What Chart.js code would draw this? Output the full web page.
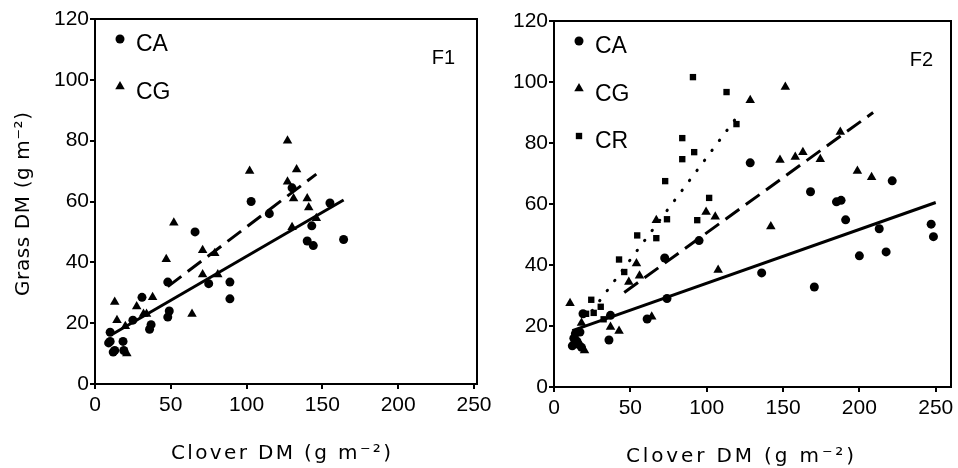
<!DOCTYPE html>
<html>
<head>
<meta charset="utf-8">
<script src="https://cdn.jsdelivr.net/npm/chart.js@4.4.1/dist/chart.umd.min.js"></script>
<style>
  html, body { margin: 0; padding: 0; background: #fff; }
  #wrap { position: relative; width: 958px; height: 468px; overflow: hidden; }
  .panel { position: absolute; top: 0; height: 468px; }
</style>
</head>
<body>
<div id="wrap">
  <div class="panel" style="left:0;width:500px"><canvas id="chartF1"></canvas></div>
  <div class="panel" style="left:480px;width:478px"><canvas id="chartF2"></canvas></div>
</div>
<script>
// clover DM (x) vs grass DM (y), g m-2
var f1CA = [[9,13.5],[10,17],[10,14],[12,10.5],[13,11],[18.5,14],[19,11],[25,21],[31,28.5],[36,18],
            [37,19.5],[48,22],[49,24],[48,33.5],[66,50],[75,33],[89,33.5],[89,28],[103,60],[115,56],
            [130,64.5],[140,47],[144,45.5],[143,52],[155,59.5],[164,47.5]];
var f1CG = [[13,27],[14.5,21],[20,19],[21,10],[27.5,25.5],[32,23],[34,23],[38,28.5],[47,41],[52,53],
            [64,23],[71,44],[71,36],[79,43],[81,36],[102,70],[127,80],[127,66.5],[131,61],[130,51.5],
            [133,70.5],[140,61],[141,58],[146,54.5]];
var f2CA = [[12,13.5],[13,16],[14,17.5],[15,15],[16,14],[18,13],[17,18],[19,24],[36,15.4],[37,23.5],
            [61,22.3],[72.5,42.3],[74,29],[95,48],[128.5,73.5],[136,37.4],[168,64],[170.5,32.8],[185,60.7],
            [188,61.2],[191,54.8],[200,43],[213,51.9],[217.5,44.3],[221.5,67.6],[247,53.4],[248.5,49.3]];
var f2CG = [[10.5,27.5],[18,21],[20,12],[37,19.7],[42.6,18.4],[49,34.4],[54,40.5],[56,36.5],[64,23],
            [67,54.7],[99.6,57.4],[105.6,55.8],[107.5,38.4],[128.5,94],[142,52.6],[148,74.4],[151.5,98.4],
            [158,75.4],[163,77],[174.4,74.7],[187.5,83.6],[198.7,70.8],[208,68.8]];
var f2CR = [[21,24],[24.4,28.6],[26,24.3],[30.6,26.3],[32.5,22.2],[42.6,41.8],[46,37.7],[54.5,49.7],
            [67,48.8],[72.8,67.5],[74,55],[84,81.6],[84,74.7],[91,101.6],[91.8,77],[93.8,54.7],[101.6,62],
            [113,96.7],[119.5,86.2]];

// regression line end points
var f1LineCA = [[12,16.5],[164,60.5]];
var f1LineCG = [[48,32],[146,69]];
var f2LineCA = [[12,18.5],[250,60.5]];
var f2LineCG = [[46,31],[209,90]];
var f2LineCR = [[25,25],[122,90]];

var xTicks = [0, 50, 100, 150, 200, 250];
var yTicks = [0, 20, 40, 60, 80, 100, 120];
var xTitle = 'Clover DM (g m\u207B\u00B2)';
var yTitle = 'Grass DM (g m\u207B\u00B2)';

var FONT = "'Liberation Sans', Arial, sans-serif";
var TITLE_FONT = "'DejaVu Sans', sans-serif";

function pts(arr) {
    return arr.map(function (p) { return { x: p[0], y: p[1] }; });
}

function scatterSet(label, arr, style, r) {
    return {
        type: 'scatter', label: label, data: pts(arr),
        pointStyle: style, pointRadius: r, pointHoverRadius: r,
        backgroundColor: '#000', borderColor: '#000', borderWidth: 0
    };
}

function lineSet(arr, dash, cap) {
    return {
        type: 'line', label: '', data: pts(arr), showLine: true, fill: false,
        borderColor: '#000', borderWidth: 3, borderDash: dash, borderCapStyle: cap || 'butt',
        pointRadius: 0, pointHoverRadius: 0
    };
}

function spacedText(ctx, text, cx, y, width) {
    ctx.letterSpacing = '0px';
    var w0 = ctx.measureText(text).width;
    var n = Array.from(text).length;
    var ls = Math.max(0, (width - w0) / (n - 1));
    ctx.letterSpacing = ls + 'px';
    ctx.textAlign = 'left';
    ctx.fillText(text, cx - width / 2, y);
    ctx.letterSpacing = '0px';
}

// frame, legend, panel tag and axis titles
var panelDecor = {
    id: 'panelDecor',
    afterDraw: function (chart, args, o) {
        var ctx = chart.ctx, a = chart.chartArea;
        ctx.save();
        ctx.strokeStyle = '#000';
        ctx.lineWidth = 2;
        ctx.strokeRect(a.left, a.top, a.right - a.left, a.bottom - a.top);

        ctx.fillStyle = '#000';
        ctx.textBaseline = 'alphabetic';

        // legend
        var row = 0;
        chart.data.datasets.forEach(function (ds) {
            if (ds.type !== 'scatter') return;
            var y = a.top + 24 + row * 47.5;
            Chart.helpers.drawPoint(ctx, { pointStyle: ds.pointStyle, radius: ds.pointRadius, rotation: 0, borderWidth: 0 },
                a.left + 25, y - 4);
            ctx.font = '23px ' + FONT;
            ctx.textAlign = 'left';
            ctx.fillText(ds.label, a.left + 41, y + 8);
            row++;
        });

        // panel tag
        ctx.font = '20px ' + FONT;
        ctx.textAlign = 'right';
        ctx.fillText(o.tag, a.right - o.tagDx, a.top + 45);

        // axis titles
        ctx.font = '20px ' + TITLE_FONT;
        spacedText(ctx, xTitle, a.left + 186, a.bottom + 75, o.xTitleW);
        if (o.yTitle) {
            ctx.save();
            ctx.translate(29, 204);
            ctx.rotate(-Math.PI / 2);
            spacedText(ctx, yTitle, 0, 0, 184);
            ctx.restore();
        }
        ctx.restore();
    }
};

function makeOptions(xMax, yWidth, xHeight, pad, decor) {
    var tickFont = { family: FONT, size: 21 };
    return {
        responsive: true,
        maintainAspectRatio: false,
        animation: false,
        events: [],
        layout: { padding: pad },
        plugins: { legend: { display: false }, tooltip: { enabled: false }, panelDecor: decor },
        scales: {
            x: {
                type: 'linear', min: 0, max: xMax,
                afterBuildTicks: function (s) { s.ticks = xTicks.map(function (v) { return { value: v }; }); },
                afterFit: function (s) { s.height = xHeight; },
                ticks: { color: '#000', font: tickFont, padding: 4, maxRotation: 0 },
                grid: { drawOnChartArea: false, tickLength: 5, color: '#000', lineWidth: 2 },
                border: { color: '#000', width: 2 }
            },
            y: {
                type: 'linear', min: 0, max: 120,
                afterBuildTicks: function (s) { s.ticks = yTicks.map(function (v) { return { value: v }; }); },
                afterFit: function (s) { s.width = yWidth; },
                ticks: { color: '#000', font: tickFont, padding: 1 },
                grid: { drawOnChartArea: false, tickLength: 5, color: '#000', lineWidth: 2 },
                border: { color: '#000', width: 2 }
            }
        }
    };
}

new Chart(document.getElementById('chartF1'), {
    type: 'scatter',
    data: {
        datasets: [
            scatterSet('CA', f1CA, 'circle', 4.5),
            scatterSet('CG', f1CG, 'triangle', 5.5),
            lineSet(f1LineCA, []),
            lineSet(f1LineCG, [17, 8])
        ]
    },
    options: makeOptions(252, 95, 84, { left: 0, right: 23, top: 19, bottom: 0 },
        { tag: 'F1', tagDx: 22, xTitleW: 220, yTitle: true }),
    plugins: [panelDecor]
});

new Chart(document.getElementById('chartF2'), {
    type: 'scatter',
    data: {
        datasets: [
            scatterSet('CA', f2CA, 'circle', 4.5),
            scatterSet('CG', f2CG, 'triangle', 5.5),
            scatterSet('CR', f2CR, 'rect', 4.5),
            lineSet(f2LineCA, []),
            lineSet(f2LineCG, [17, 8]),
            lineSet(f2LineCR, [0.5, 12], 'round')
        ]
    },
    options: makeOptions(260, 74, 81, { left: 0, right: 7, top: 21, bottom: 0 },
        { tag: 'F2', tagDx: 18, xTitleW: 228, yTitle: false }),
    plugins: [panelDecor]
});
</script>
</body>
</html>
